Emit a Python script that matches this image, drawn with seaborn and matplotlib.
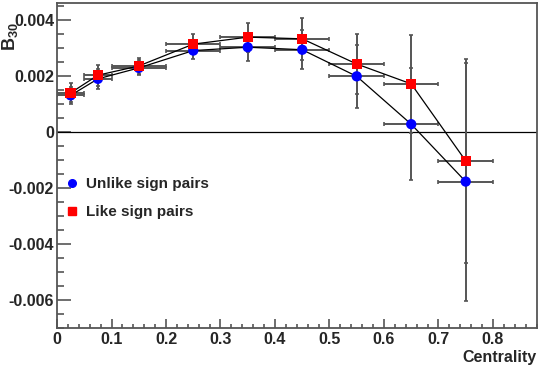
import matplotlib
matplotlib.use("Agg")
import matplotlib.pyplot as plt
import numpy as np
import pandas as pd
import seaborn as sns
from matplotlib.lines import Line2D
from matplotlib.ticker import MultipleLocator, FuncFormatter

centrality = [0.025, 0.075, 0.15, 0.25, 0.35, 0.45, 0.55, 0.65, 0.75]
centrality_err = [0.025, 0.025, 0.05, 0.05, 0.05, 0.05, 0.05, 0.05, 0.05]

unlike_b30 = [0.00130, 0.00189, 0.00228, 0.00290, 0.00302, 0.00293, 0.00198, 0.00027, -0.00178]
unlike_err = [0.00030, 0.00035, 0.00027, 0.00031, 0.00048, 0.00070, 0.00113, 0.00200, 0.00425]

like_b30 = [0.00139, 0.00202, 0.00235, 0.00313, 0.00338, 0.00332, 0.00242, 0.00171, -0.00104]
like_err = [0.00034, 0.00038, 0.00028, 0.00036, 0.00052, 0.00075, 0.00108, 0.00174, 0.00365]

sns.set_style("ticks")
plt.rcParams['font.family'] = ['Liberation Sans', 'DejaVu Sans']
plt.rcParams['font.weight'] = 'bold'
plt.rcParams['axes.unicode_minus'] = False
plt.rcParams['mathtext.fontset'] = 'custom'
plt.rcParams['mathtext.rm'] = 'Liberation Sans:bold'
plt.rcParams['mathtext.bf'] = 'Liberation Sans:bold'
plt.rcParams['mathtext.it'] = 'Liberation Sans:bold'

df = pd.DataFrame({
    'Centrality': centrality * 2,
    'B30': unlike_b30 + like_b30,
    'pairs': ['Unlike sign pairs'] * len(centrality) + ['Like sign pairs'] * len(centrality),
})

fig = plt.figure(figsize=(5.4, 3.69), dpi=100)
ax = fig.add_axes([0.1056, 0.1119, 0.888, 0.880])

# zero line
ax.axhline(0, color='black', lw=0.9, zorder=1)

# error bars (ROOT style, no markers)
err_col = '#555555'
ax.errorbar(centrality, unlike_b30, xerr=centrality_err, yerr=unlike_err, fmt='none',
            ecolor=err_col, elinewidth=1.4, capsize=1.3, capthick=1.2, zorder=2)
ax.errorbar(centrality, like_b30, xerr=centrality_err, yerr=like_err, fmt='none',
            ecolor=err_col, elinewidth=1.4, capsize=1.3, capthick=1.2, zorder=2)

# connecting lines
sns.lineplot(data=df, x='Centrality', y='B30', units='pairs', estimator=None,
             color='black', lw=0.9, sort=False, ax=ax, zorder=3, legend=False)

# markers
sns.scatterplot(data=df, x='Centrality', y='B30', hue='pairs', style='pairs',
                palette={'Unlike sign pairs': '#0000ff', 'Like sign pairs': '#ff0000'},
                markers={'Unlike sign pairs': 'o', 'Like sign pairs': 's'},
                s=55, linewidth=0, ax=ax, zorder=4, legend=False)

ax.set_xlim(0, 0.88)
ax.set_ylim(-0.007, 0.0046)
ax.xaxis.set_major_locator(MultipleLocator(0.1))
ax.xaxis.set_minor_locator(MultipleLocator(0.02))
ax.yaxis.set_major_locator(MultipleLocator(0.002))
ax.yaxis.set_minor_locator(MultipleLocator(0.0005))
ax.xaxis.set_major_formatter(FuncFormatter(lambda v, p: '0' if abs(v) < 1e-9 else f'{v:.1f}'))
ax.yaxis.set_major_formatter(FuncFormatter(lambda v, p: '0' if abs(v) < 1e-9 else f'{v:.3f}'))

for s in ax.spines.values():
    s.set_visible(True)
    s.set_color('#555555')
    s.set_linewidth(1.3)

ax.tick_params(axis='y', which='major', direction='in', length=10, width=1.2, color='#555555',
               labelsize=11.5, pad=2)
ax.tick_params(axis='y', which='minor', direction='in', length=5, width=1.2, color='#555555')
ax.tick_params(axis='x', which='major', direction='in', length=6.5, width=1.2, color='#555555',
               labelsize=11.5, pad=3)
ax.tick_params(axis='x', which='minor', direction='in', length=3, width=1.2, color='#555555')
for lab in ax.get_xticklabels() + ax.get_yticklabels():
    lab.set_fontweight('bold')

ax.set_xlabel('')
ax.set_ylabel('')
fig.text(0.994, 0.03, 'Centrality', ha='right', va='center', fontsize=11.5, fontweight='bold')
fig.text(0.018, 0.90, r'$\mathbf{B_{30}}$', ha='center', va='center', rotation=90, fontsize=13)

handles = [
    Line2D([], [], marker='o', color='#0000ff', ls='none', markersize=5.5),
    Line2D([], [], marker='s', color='#ff0000', ls='none', markersize=5.5),
]
ax.legend(handles, ['Unlike sign pairs', 'Like sign pairs'], loc='upper left',
          bbox_to_anchor=(-0.016, 0.505), frameon=False, handletextpad=0.3, handlelength=1.2,
          labelspacing=0.9, prop={'weight': 'bold', 'size': 11})

fig.savefig('out.png', dpi=100)
